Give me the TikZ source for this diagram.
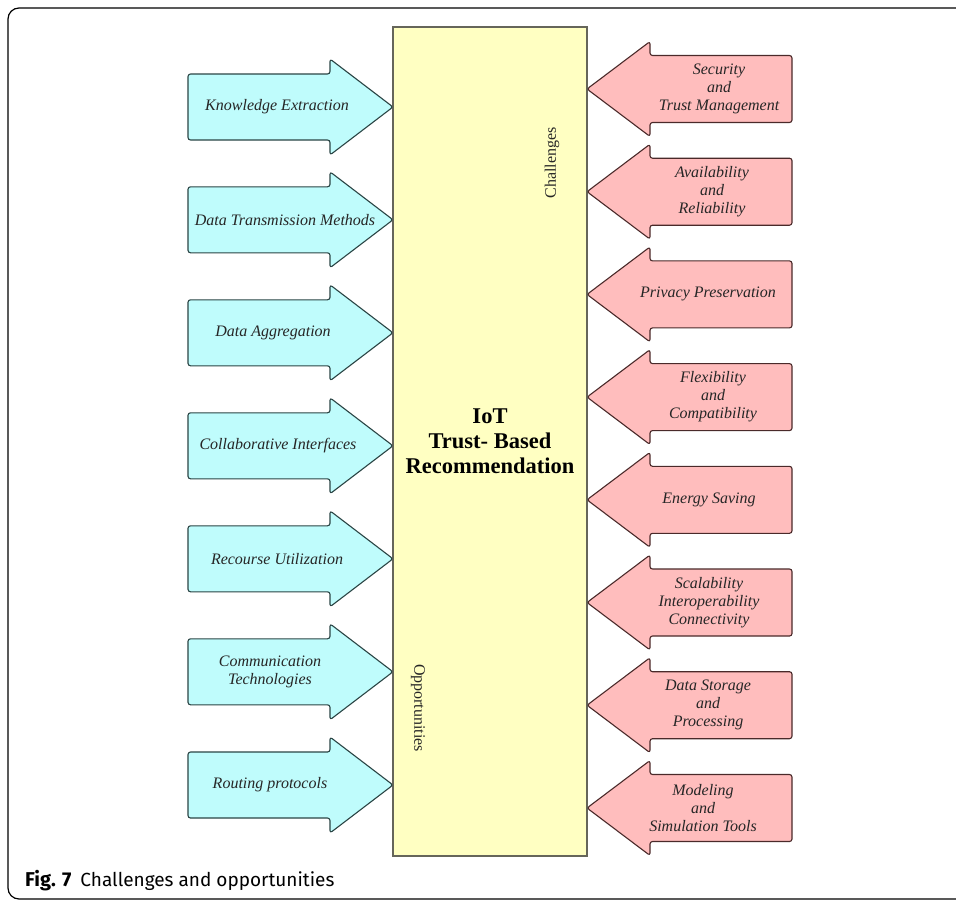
\documentclass[tikz,border=0pt]{standalone}
\usepackage{fontspec}
\setmainfont{Liberation Serif}
\newfontfamily\capfont{Fira Sans}
\definecolor{bluefill}{HTML}{BFFCFC}
\definecolor{redfill}{HTML}{FFBDBD}
\definecolor{yelfill}{HTML}{FFFFC2}
\definecolor{blueedge}{HTML}{2A4444}
\definecolor{rededge}{HTML}{4A2A2A}
\definecolor{yeledge}{HTML}{66665A}
\begin{document}
\begin{tikzpicture}[x=1pt,y=-1pt,
  bluearr/.style={draw=blueedge,fill=bluefill,line width=1.1pt,rounded corners=2.5pt,line join=round},
  redarr/.style={draw=rededge,fill=redfill,line width=1.1pt,rounded corners=2.5pt,line join=round},
  centerbox/.style={draw=yeledge,fill=yelfill,line width=1.1pt},
  lbl/.style={font=\fontsize{16}{18}\selectfont\itshape,align=center,inner sep=0pt,text=black!85},
  sidelbl/.style={font=\fontsize{16}{18}\selectfont,inner sep=0pt,text=black!85},
  titlelbl/.style={font=\fontsize{22.5}{25}\selectfont\bfseries,align=center,inner sep=0pt},
  caplbl/.style={font=\capfont\fontsize{19}{21}\selectfont,anchor=base west,inner sep=0pt}]
\useasboundingbox (0,0) rectangle (956,900);
\begin{scope}
\clip (0,0) rectangle (956,900);
\draw[line width=1.2pt,rounded corners=11pt] (8,8) rectangle (1000,899);
\end{scope}
% central box
\node[centerbox,minimum width=194pt,minimum height=829pt,inner sep=0pt] (core) at (490,441.5) {};
\node[titlelbl] (title) at (core.center) {IoT\\Trust- Based\\Recommendation};
\node[sidelbl,rotate=90] (chal) at (552,163) {Challenges};
\node[sidelbl,rotate=-90] (opp) at (418,708) {Opportunities};
% blue arrows (opportunities)
\foreach \yy/\xx/\tt/\nn in {
  107/277/{Knowledge Extraction}/b1,
  219.8/285/{Data Transmission Methods}/b2,
  332.8/273/{Data Aggregation}/b3,
  445.8/278/{Collaborative Interfaces}/b4,
  558.8/277/{Recourse Utilization}/b5,
  671.8/270/{Communication\\Technologies}/b6,
  785/270/{Routing protocols}/b7}{
  \draw[bluearr] (188,\yy-33) -- (330,\yy-33) -- (330,\yy-48) -- (393,\yy) -- (330,\yy+48) -- (330,\yy+33) -- (188,\yy+33) -- cycle;
  \node[lbl] (\nn) at (\xx,\yy) {\tt};
}
% red arrows (challenges)
\foreach \yy/\xx/\tt/\nn in {
  89/719/{Security\\and\\Trust Management}/r1,
  191.7/712/{Availability\\and\\Reliability}/r2,
  294.4/708/{Privacy Preservation}/r3,
  397.1/713/{Flexibility\\and\\Compatibility}/r4,
  499.8/709/{Energy Saving}/r5,
  602.5/709/{Scalability\\Interoperability\\Connectivity}/r6,
  705.2/708/{Data Storage\\and\\Processing}/r7,
  808/703/{Modeling\\and\\Simulation Tools}/r8}{
  \draw[redarr] (792,\yy-33.5) -- (650,\yy-33.5) -- (650,\yy-47.5) -- (587,\yy) -- (650,\yy+47.5) -- (650,\yy+33.5) -- (792,\yy+33.5) -- cycle;
  \node[lbl] (\nn) at (\xx,\yy) {\tt};
}
% caption
\node[caplbl] (cap) at (25,886) {{\fontsize{20}{21}\selectfont\bfseries Fig. 7}\hspace{9pt}Challenges and opportunities};
\end{tikzpicture}
\end{document}
